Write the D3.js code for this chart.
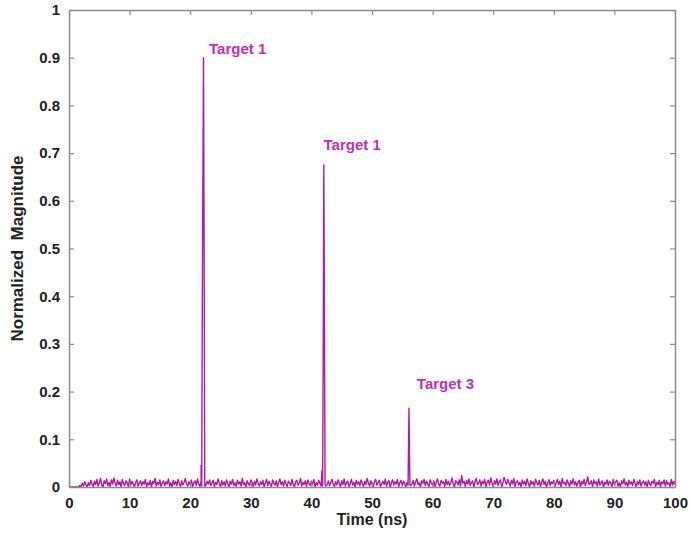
<!DOCTYPE html>
<html>
<head>
<meta charset="utf-8">
<script src="https://cdn.jsdelivr.net/npm/d3@7"></script>
<style>
  body { margin: 0; background: #fff; }
  text { font-family: Arial, "Liberation Sans", sans-serif; }
</style>
</head>
<body>
<div id="chart"></div>
<script>
// noise floor, thousandths, one sample every 0.2 ns from 0 to 100
const noiseStep = 0.2;
const noise = [
  0,0,0,0,0,0,0,0,0,3,1,8,2,11,4,0,9,3,14,6,
  1,12,5,16,2,9,18,4,0,13,7,17,3,10,1,15,6,19,8,2,
  14,5,11,0,16,7,3,13,9,1,17,4,12,6,0,10,15,2,8,13,
  3,11,6,16,1,9,4,14,0,12,7,18,2,10,5,15,1,8,13,3,
  11,6,17,2,9,0,14,5,12,3,16,8,1,13,4,10,18,6,2,11,
  5,15,0,9,13,3,17,7,1,12,2,0,1,4,12,6,15,3,9,14,
  1,10,5,17,8,0,13,4,11,2,15,7,0,12,6,16,3,9,1,14,
  6,11,2,18,5,9,0,13,7,3,15,10,1,12,4,17,8,2,11,5,
  14,0,9,16,3,12,6,1,15,8,4,13,0,10,17,5,11,2,14,7,
  1,12,9,3,16,6,0,11,14,4,8,18,2,10,5,13,1,15,7,3,
  12,6,16,0,9,4,14,8,2,11,1,0,2,5,13,3,10,16,6,1,
  11,4,15,8,0,13,5,17,2,9,12,1,7,16,4,10,0,14,6,11,
  3,15,8,1,12,5,18,9,2,13,6,0,11,16,4,9,14,1,7,12,
  5,17,2,10,13,0,8,15,4,11,6,16,1,9,14,3,12,7,0,10,
  1,0,3,6,14,2,11,17,5,9,0,13,8,16,3,12,6,1,15,9,
  4,13,0,10,17,6,2,14,8,11,1,16,5,12,3,9,19,7,0,13,
  10,4,15,2,24,8,12,1,14,6,17,3,9,13,0,11,18,5,8,15,
  2,12,7,16,0,10,14,4,19,9,1,13,6,17,3,11,15,0,8,20,
  12,5,16,9,2,14,7,18,1,11,13,4,10,0,15,6,12,3,17,8,
  0,13,6,11,2,16,9,4,14,1,10,17,5,12,0,8,15,3,11,7,
  14,2,9,16,5,12,0,18,7,10,3,15,8,1,13,6,17,4,11,2,
  9,14,0,12,6,16,3,10,21,5,8,13,1,15,7,11,2,17,4,9,
  13,0,10,6,15,3,12,8,1,16,5,11,14,2,9,0,13,7,17,4,
  10,1,14,6,11,3,16,8,0,12,5,15,2,9,13,4,11,0,14,7,
  3,12,8,16,1,10,5,14,0,11,7,15,2,13,6,9,1,16,4,12,
  5
];

// target echoes [time ns, magnitude]
const peak1 = [[21.8, 0.045], [21.9, 0.002], [22.0, 0.38], [22.1, 0.66], [22.2, 0.9], [22.3, 0.5], [22.4, 0.01]];
const peak2 = [[41.75, 0.035], [41.85, 0.002], [41.95, 0.28], [42.05, 0.675], [42.15, 0.37], [42.25, 0.005]];
const peak3 = [[55.95, 0.004], [56.02, 0.075], [56.1, 0.165], [56.18, 0.07], [56.26, 0.004]];

// annotation anchors in data units [time ns, magnitude]
const labelText = ["Target 1", "Target 1", "Target 3"];
const labelAt = [[23.1, 0.908], [42.0, 0.706], [57.4, 0.206]];

const xTicks = [0, 10, 20, 30, 40, 50, 60, 70, 80, 90, 100];
const yTicks = [0, 0.1, 0.2, 0.3, 0.4, 0.5, 0.6, 0.7, 0.8, 0.9, 1];

const width = 690, height = 545;
const margin = { top: 10, right: 15, bottom: 58, left: 69 };
const w = width - margin.left - margin.right;
const h = height - margin.top - margin.bottom;

const lineColor = "#b3189f";
const labelColor = "#bf2fb9";

// merge noise with the peaks, dropping noise samples inside each peak window
const peaks = [peak1, peak2, peak3];
let series = noise.map((d, i) => [i * noiseStep, d / 1000])
  .filter(p => !peaks.some(pk => p[0] > pk[0][0] && p[0] < pk[pk.length - 1][0]));
series = series.concat(peak1, peak2, peak3).sort((a, b) => a[0] - b[0]);

const svg = d3.select("#chart").append("svg")
  .attr("width", width)
  .attr("height", height);

const g = svg.append("g")
  .attr("transform", "translate(" + margin.left + "," + margin.top + ")");

const x = d3.scaleLinear().domain([0, 100]).range([0, w]);
const y = d3.scaleLinear().domain([0, 1]).range([h, 0]);

const line = d3.line()
  .x(d => x(d[0]))
  .y(d => y(d[1]));

g.append("path")
  .datum(series)
  .attr("fill", "none")
  .attr("stroke", lineColor)
  .attr("stroke-width", 1.4)
  .attr("stroke-linejoin", "round")
  .attr("d", line);

// axes, ticks pointing inward on all sides
function styleAxis(sel) {
  sel.select(".domain").attr("stroke", "#8c8c8c").attr("stroke-width", 1.5);
  sel.selectAll(".tick line").attr("stroke", "#8c8c8c").attr("stroke-width", 1.2);
  sel.selectAll("text")
    .attr("fill", "#222")
    .style("font-size", "15px")
    .style("font-weight", "bold");
}

g.append("g")
  .attr("transform", "translate(0," + h + ")")
  .call(d3.axisBottom(x).tickValues(xTicks).tickSizeInner(-5).tickSizeOuter(0).tickPadding(10))
  .call(styleAxis);

g.append("g")
  .call(d3.axisLeft(y).tickValues(yTicks).tickFormat(d3.format("~g")).tickSizeInner(-5).tickSizeOuter(0).tickPadding(9))
  .call(styleAxis);

g.append("g")
  .call(d3.axisTop(x).tickValues(xTicks).tickSizeInner(-5).tickSizeOuter(0).tickFormat(""))
  .call(styleAxis);

g.append("g")
  .attr("transform", "translate(" + w + ",0)")
  .call(d3.axisRight(y).tickValues(yTicks).tickSizeInner(-5).tickSizeOuter(0).tickFormat(""))
  .call(styleAxis);

// peak annotations
g.selectAll(".peak-label")
  .data(labelText)
  .enter().append("text")
  .attr("class", "peak-label")
  .attr("x", (d, i) => x(labelAt[i][0]))
  .attr("y", (d, i) => y(labelAt[i][1]))
  .attr("fill", labelColor)
  .style("font-size", "15px")
  .style("font-weight", "bold")
  .text(d => d);

// axis titles
svg.append("text")
  .attr("x", margin.left + w / 2)
  .attr("y", 525)
  .attr("text-anchor", "middle")
  .attr("fill", "#222")
  .style("font-size", "16px")
  .style("font-weight", "bold")
  .text("Time (ns)");

svg.append("text")
  .attr("transform", "translate(23," + (margin.top + h / 2) + ") rotate(-90)")
  .attr("text-anchor", "middle")
  .attr("fill", "#222")
  .style("font-size", "17px")
  .style("font-weight", "bold")
  .style("white-space", "pre")
  .text("Normalized  Magnitude");
</script>
</body>
</html>
